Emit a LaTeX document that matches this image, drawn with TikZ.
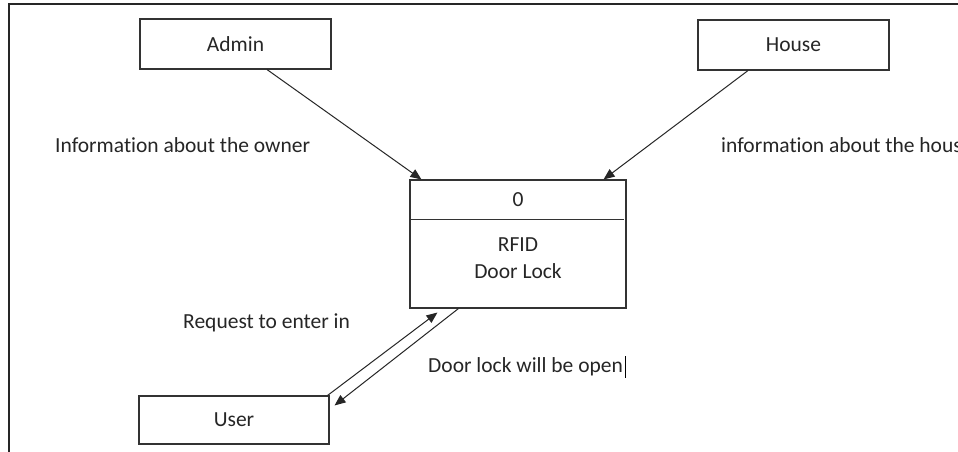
\documentclass[tikz,border=0pt]{standalone}
\usepackage{fontspec}
\setmainfont{Carlito}[Ligatures=NoCommon]
\usetikzlibrary{arrows.meta,calc}
\begin{document}
\begin{tikzpicture}[x=1pt,y=-1pt,
  ent/.style={draw=black!80,line width=1.1pt,minimum width=191pt,minimum height=50pt,inner sep=0pt,font=\fontsize{21.5}{25}\selectfont,text=black!85},
  lbl/.style={inner sep=0pt,anchor=west,font=\fontsize{21.5}{25}\selectfont,text=black!85},
  flow/.style={draw=black!85,line width=1pt,-{Triangle[length=11pt,width=9pt]}}]
\useasboundingbox[fill=white] (0,0) rectangle (958,452);
\draw[black!85,line width=1.4pt] (958,4) coordinate (fr1) -- (9,4) coordinate (fr2) -- (9,452) coordinate (fr3);
\node[ent] (admin) at (235.5,44) {Admin};
\node[ent] (house) at (793.5,45) {House};
\node[ent,minimum width=190pt,minimum height=48pt] (user) at (234,420) {User};
\node[ent,minimum width=216pt,minimum height=128pt] (proc) at (518,244) {};
\draw[black!80,line width=1.1pt] ($(proc.north west)+(0,40)$) coordinate (d1) -- ($(proc.north east)+(-3,40)$) coordinate (d2);
\node[lbl,anchor=center] (zero) at (518,200) {0};
\node[lbl,anchor=center,align=center,font=\fontsize{21.5}{27}\selectfont] (name) at (518,258) {RFID\\Door Lock};
\draw[flow] ($(admin.south)+(31.5,0)$) -- ($(proc.north west)+(12,0)$);
\draw[flow] ($(house.south)+(-45.5,0)$) -- ($(proc.north east)+(-23,0)$);
\draw[flow] ($(user.north east)+(-2,0)$) -- ($(proc.south west)+(28,4)$);
\draw[flow] ($(proc.south west)+(49,0)$) -- ($(user.north east)+(5,10)$);
\node[lbl] (l1) at (55,145) {Information about the owner};
\node[lbl] (l2) at (721,145) {information about the house};
\node[lbl] (l3) at (183,323) {Request to enter in};
\node[lbl] (l4) at (428,367) {Door lock will be open};
\draw[black,line width=0.9pt] ($(l4.east)+(2,-11)$) coordinate (c1) -- ($(l4.east)+(2,11)$) coordinate (c2);
\end{tikzpicture}
\end{document}
